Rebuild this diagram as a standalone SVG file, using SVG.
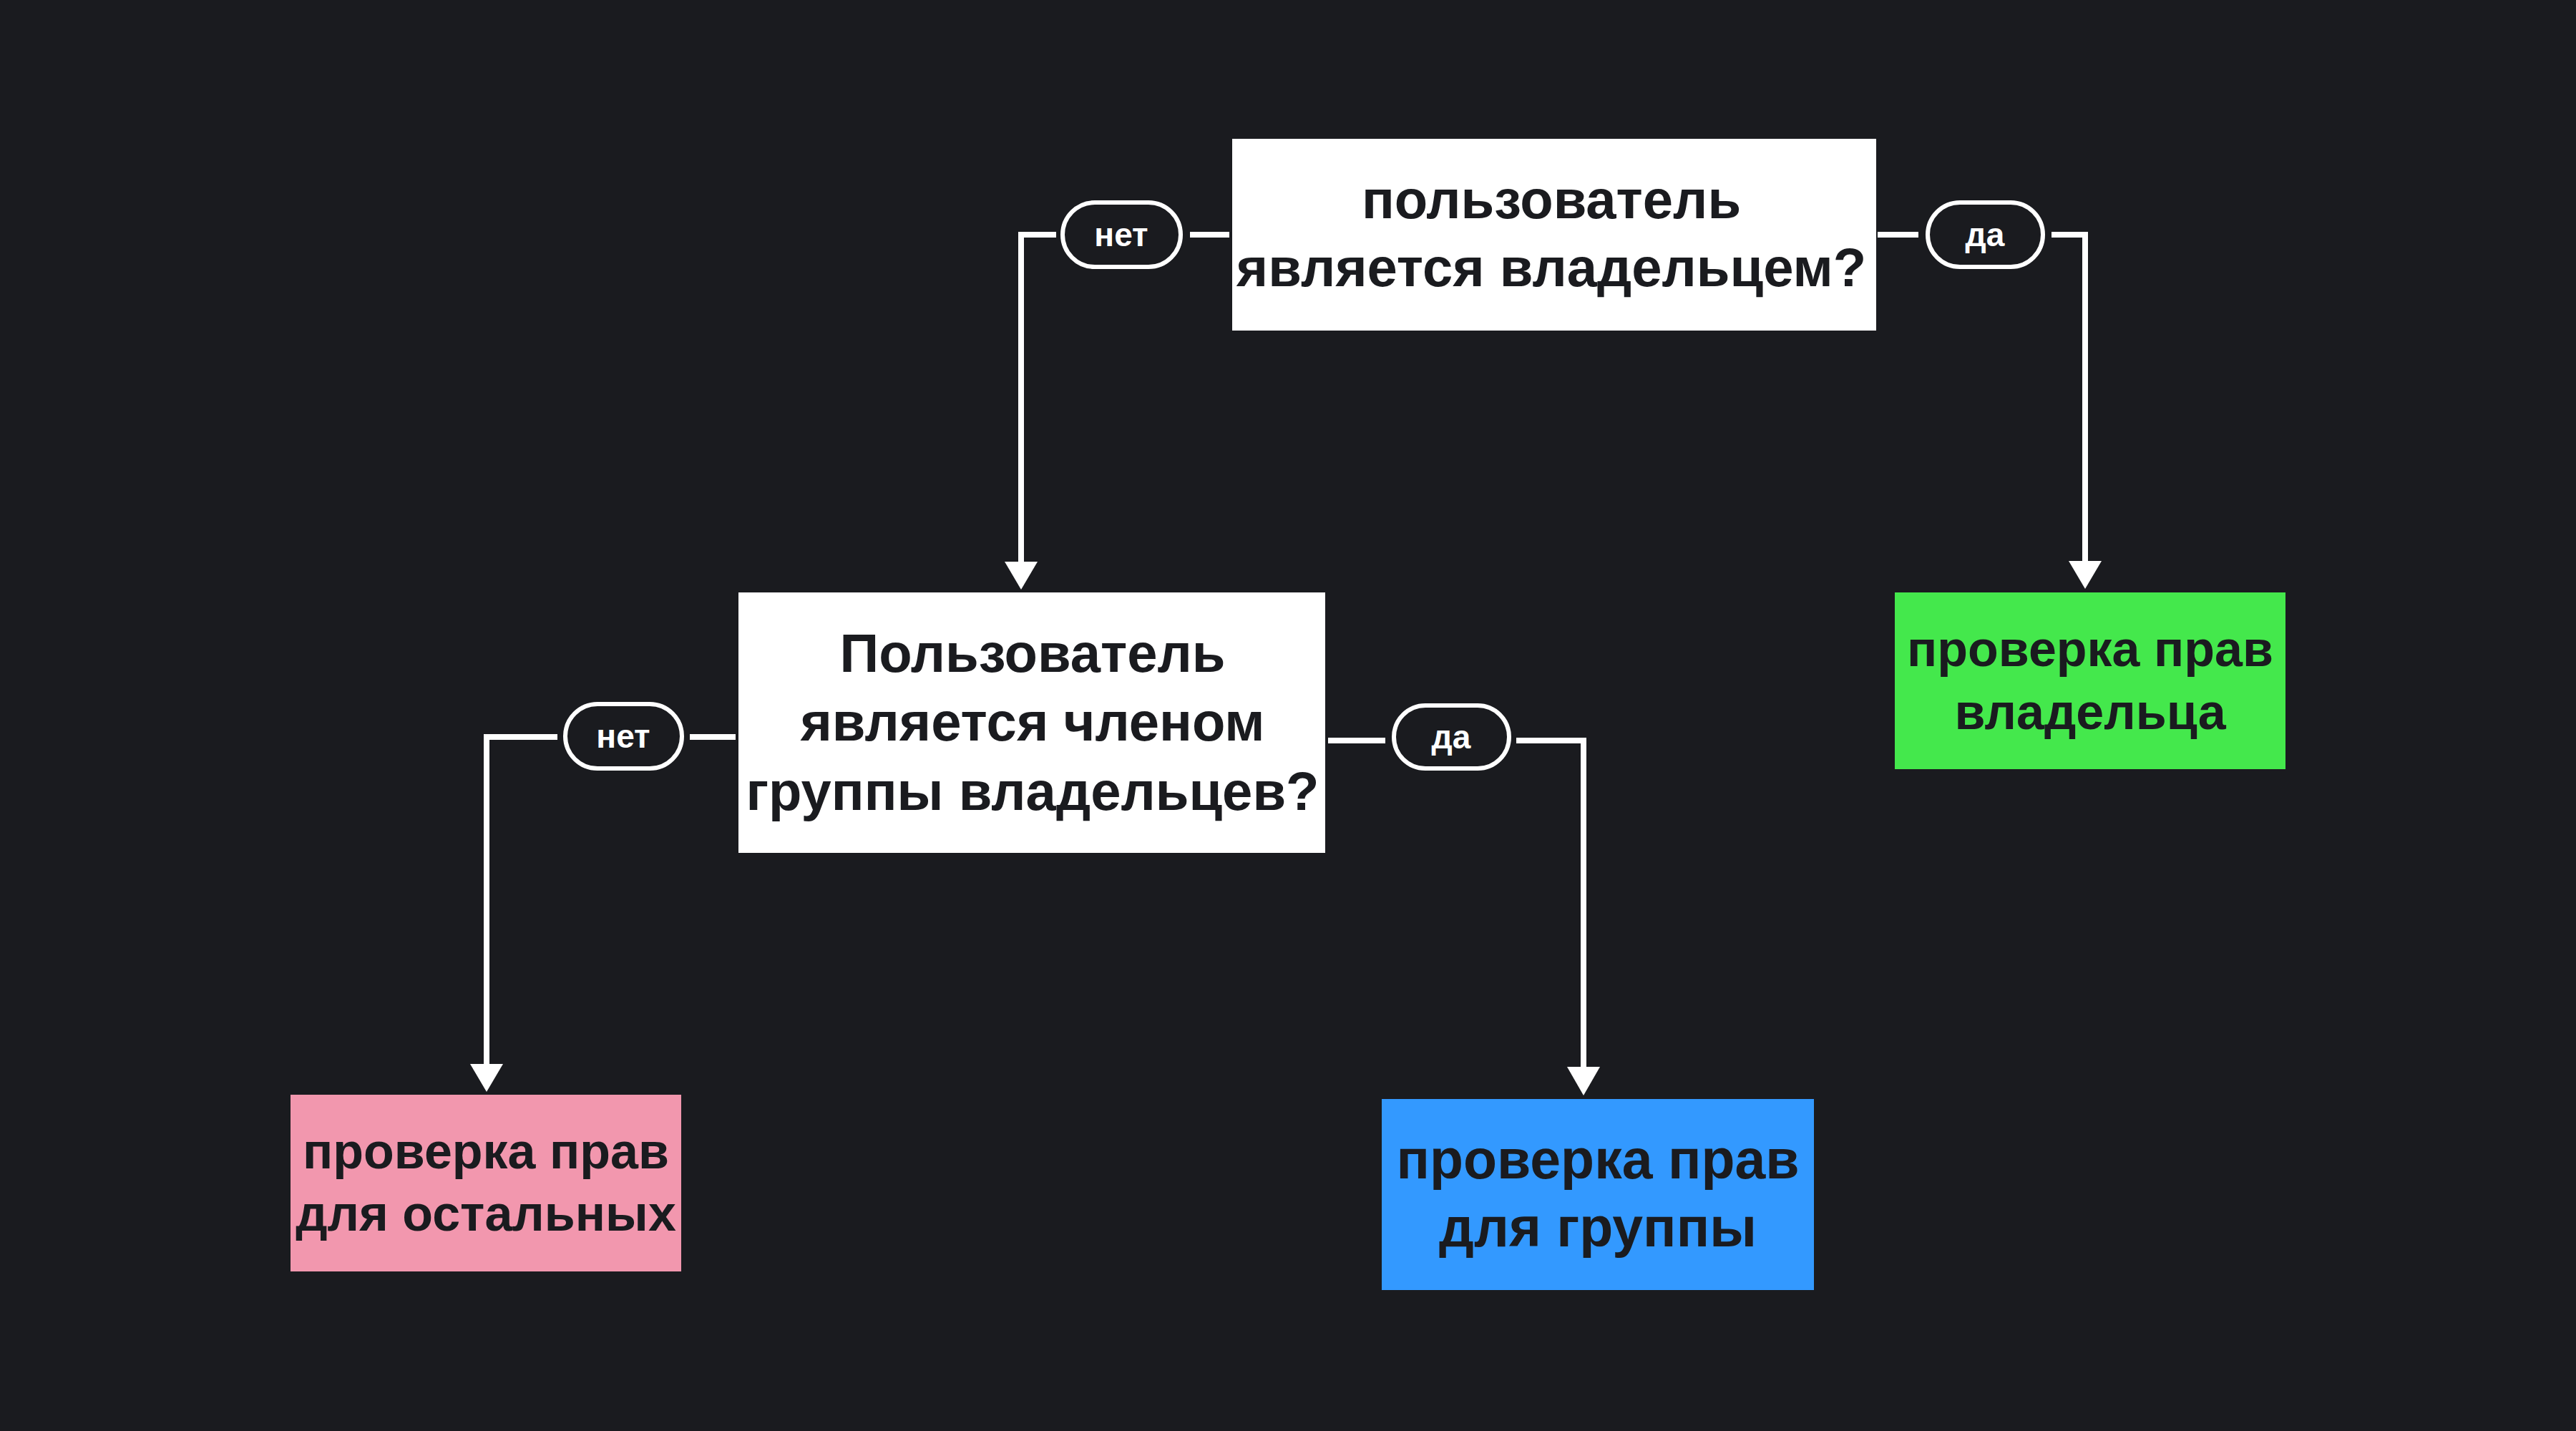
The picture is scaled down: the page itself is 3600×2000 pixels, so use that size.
<svg xmlns="http://www.w3.org/2000/svg" width="3600" height="2000" viewBox="0 0 3600 2000">
<defs>
<style>
.bg{fill:#1a1b1f}
.box-white{fill:#ffffff}
.t{font-family:"Liberation Sans",Arial,sans-serif;font-weight:700;fill:#1a1b1f;text-anchor:middle}
.tq{font-size:76px}
.tg{font-size:70px}
.tb{font-size:77px}
.pill{fill:#1a1b1f;stroke:#ffffff;stroke-width:6}
.pt{font-family:"Liberation Sans",Arial,sans-serif;font-weight:700;font-size:46px;fill:#ffffff;text-anchor:middle}
.ln{fill:none;stroke:#ffffff;stroke-width:8}
.ah{fill:#ffffff}
</style>
</defs>
<rect class="bg" x="0" y="0" width="3600" height="2000"/>

<g id="connectors">
  <path class="ln" d="M1718 328 H1663"/>
  <path class="ln" d="M1476 328 H1427 V788"/>
  <polygon class="ah" points="1404,785 1450,785 1427,824"/>
  <path class="ln" d="M2624 328 H2681"/>
  <path class="ln" d="M2867 328 H2914 V788"/>
  <polygon class="ah" points="2891,784 2937,784 2914,823"/>
  <path class="ln" d="M1028 1030 H964"/>
  <path class="ln" d="M779 1030 H680 V1490"/>
  <polygon class="ah" points="657,1487 703,1487 680,1526"/>
  <path class="ln" d="M1856 1035 H1936"/>
  <path class="ln" d="M2119 1035 H2213 V1494"/>
  <polygon class="ah" points="2190,1491 2236,1491 2213,1531"/>
</g>

<g id="label-top-net">
  <rect class="pill" x="1485" y="283" width="165" height="90" rx="45"/>
  <text class="pt" x="1567" y="344">нет</text>
</g>
<g id="label-top-da">
  <rect class="pill" x="2694" y="283" width="161" height="90" rx="45"/>
  <text class="pt" x="2774" y="344">да</text>
</g>
<g id="label-mid-net">
  <rect class="pill" x="790" y="984" width="163" height="90" rx="45"/>
  <text class="pt" x="871" y="1045">нет</text>
</g>
<g id="label-mid-da">
  <rect class="pill" x="1948" y="986" width="161" height="88" rx="44"/>
  <text class="pt" x="2028" y="1046">да</text>
</g>

<g id="node-owner">
  <rect class="box-white" x="1722" y="194" width="900" height="268"/>
  <text class="t tq" x="2168" y="305">пользователь</text>
  <text class="t tq" x="2168" y="400">является владельцем?</text>
</g>

<g id="node-group">
  <rect class="box-white" x="1032" y="828" width="820" height="364"/>
  <text class="t tq" x="1443" y="939">Пользователь</text>
  <text class="t tq" x="1443" y="1035">является членом</text>
  <text class="t tq" x="1443" y="1132">группы владельцев?</text>
</g>

<g id="node-owner-rights">
  <rect x="2648" y="828" width="546" height="247" fill="#44e84c"/>
  <text class="t tg" x="2921" y="931">проверка прав</text>
  <text class="t tg" x="2921" y="1019">владельца</text>
</g>

<g id="node-group-rights">
  <rect x="1931" y="1536" width="604" height="267" fill="#3399ff"/>
  <text class="t tb" x="2233" y="1647">проверка прав</text>
  <text class="t tb" x="2233" y="1742">для группы</text>
</g>

<g id="node-other-rights">
  <rect x="406" y="1530" width="546" height="247" fill="#f297ae"/>
  <text class="t tg" x="679" y="1633">проверка прав</text>
  <text class="t tg" x="679" y="1720">для остальных</text>
</g>
</svg>
